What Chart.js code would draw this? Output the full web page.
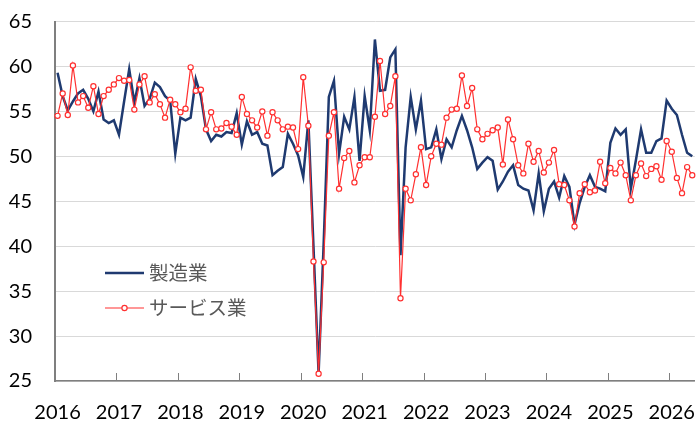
<!DOCTYPE html>
<html>
<head>
<meta charset="utf-8">
<script src="https://cdn.jsdelivr.net/npm/chart.js@4/dist/chart.umd.min.js"></script>
<style>
  html, body { margin: 0; padding: 0; background: #ffffff; }
  #wrap { width: 700px; height: 421px; position: relative; }
</style>
</head>
<body>
<div id="wrap"><canvas id="c" width="700" height="421"></canvas></div>
<script>
// ---- data ----
const startYear = 2016;
const yearLabels = ['2016','2017','2018','2019','2020','2021','2022','2023','2024','2025','2026'];
const seriesNames = ['製造業', 'サービス業'];

const manufacturing = [
  59.3, 56.7, 55.1, 56.1, 57.0, 57.4, 56.4, 55.0, 57.2, 54.1, 53.7, 54.0,
  52.4, 56.1, 59.7, 56.0, 58.7, 55.6, 56.4, 58.2, 57.7, 56.7, 56.2, 50.3,
  54.3, 54.0, 54.3, 58.6, 56.7, 53.0, 51.7, 52.4, 52.2, 52.7, 52.6, 54.8,
  51.3, 53.9, 52.4, 52.7, 51.4, 51.2, 47.9, 48.4, 48.8, 52.5, 51.4, 50.1,
  47.7, 54.0, 40.0, 25.8, 40.5, 56.6, 58.4, 50.3, 54.4, 53.0, 56.6, 49.5,
  56.7, 52.9, 63.0, 57.3, 57.4, 61.0, 61.9, 39.0, 51.0, 56.6, 53.0, 56.2,
  50.8, 51.0, 53.0, 49.7, 51.9, 51.0, 52.9, 54.5, 52.9, 51.0, 48.6, 49.3,
  49.9, 49.5, 46.3, 47.2, 48.3, 49.0, 46.8, 46.4, 46.2, 44.0, 48.1, 43.9,
  46.4, 47.2, 45.4, 47.8, 46.6, 42.4, 44.8, 46.6, 47.9, 46.6, 46.4, 46.1,
  51.5, 53.1, 52.4, 53.0, 46.4, 49.6, 53.0, 50.4, 50.4, 51.7, 52.0, 56.2,
  55.3, 54.6, 52.4, 50.4, 50.0
];

const services = [
  54.5, 57.0, 54.6, 60.1, 56.0, 56.7, 55.4, 57.8, 54.7, 56.7, 57.4, 58.0,
  58.7, 58.4, 58.5, 55.2, 58.0, 58.9, 56.0, 56.9, 55.8, 54.3, 56.3, 55.8,
  54.9, 55.3, 59.9, 57.3, 57.4, 53.0, 54.9, 53.0, 53.1, 53.7, 53.3, 52.4,
  56.6, 54.7, 54.0, 53.2, 55.0, 52.3, 54.9, 54.0, 53.0, 53.3, 53.2, 50.8,
  58.8, 53.4, 38.3, 25.8, 38.2, 52.3, 54.9, 46.4, 49.8, 50.6, 47.1, 49.0,
  49.9, 49.9, 54.4, 60.6, 54.7, 55.6, 58.9, 34.2, 46.4, 45.1, 48.0, 51.0,
  46.8, 50.0, 51.4, 51.3, 54.3, 55.2, 55.3, 59.0, 55.6, 57.6, 53.0, 51.9,
  52.5, 52.9, 53.2, 49.1, 54.1, 51.9, 49.0, 48.1, 51.4, 49.4, 50.6, 48.2,
  49.3, 50.7, 46.9, 46.8, 45.1, 42.2, 45.9, 46.9, 46.0, 46.2, 49.4, 47.0,
  48.7, 48.1, 49.3, 47.9, 45.1, 47.9, 49.2, 47.8, 48.6, 48.9, 47.4, 51.7,
  50.5, 47.6, 45.9, 48.8, 47.9
];

const yMin = 25, yMax = 65, yStep = 5;

// month categories built from the series length
const months = manufacturing.map((_, i) => {
  const y = startYear + Math.floor(i / 12);
  const m = (i % 12) + 1;
  return y + '-' + String(m).padStart(2, '0');
});

// ---- plugins ----
const innerTicks = {
  id: 'innerTicks',
  afterDatasetsDraw(chart) {
    const xs = chart.scales.x;
    const ctx = chart.ctx;
    const half = (xs.getPixelForValue(1) - xs.getPixelForValue(0)) / 2;
    ctx.save();
    ctx.strokeStyle = '#7f7f7f';
    ctx.lineWidth = 1;
    months.forEach((lab, i) => {
      if (lab.endsWith('-01')) {
        const px = Math.round(xs.getPixelForValue(i) - half) + 0.5;
        ctx.beginPath();
        ctx.moveTo(px, xs.top);
        ctx.lineTo(px, xs.top - 8);
        ctx.stroke();
      }
    });
    ctx.restore();
  }
};

const innerLegend = {
  id: 'innerLegend',
  afterDraw(chart) {
    const ctx = chart.ctx;
    const x0 = 105, y0 = 273, gap = 35, len = 39;
    ctx.save();
    ctx.font = '19.5px "Noto Sans CJK JP"';
    ctx.textBaseline = 'middle';
    ctx.textAlign = 'left';
    chart.data.datasets.forEach((ds, k) => {
      const y = y0 + k * gap;
      ctx.strokeStyle = ds.borderColor;
      ctx.lineWidth = ds.borderWidth;
      ctx.beginPath();
      ctx.moveTo(x0, y);
      ctx.lineTo(x0 + len, y);
      ctx.stroke();
      if (ds.pointRadius > 0) {
        ctx.beginPath();
        ctx.arc(x0 + len / 2, y, ds.pointRadius, 0, Math.PI * 2);
        ctx.fillStyle = ds.pointBackgroundColor;
        ctx.fill();
        ctx.lineWidth = ds.pointBorderWidth;
        ctx.strokeStyle = ds.pointBorderColor;
        ctx.stroke();
      }
      ctx.fillStyle = '#595959';
      ctx.fillText(ds.label, x0 + len + 5, y);
    });
    ctx.restore();
  }
};

new Chart(document.getElementById('c'), {
  type: 'line',
  data: {
    labels: months,
    datasets: [
      {
        label: seriesNames[0],
        data: manufacturing,
        borderColor: '#1f3a70',
        borderWidth: 2.5,
        pointRadius: 0,
        tension: 0,
        order: 2
      },
      {
        label: seriesNames[1],
        data: services,
        borderColor: '#ff3030',
        borderWidth: 1.2,
        pointRadius: 2.6,
        pointBackgroundColor: '#ffffff',
        pointBorderColor: '#ff3030',
        pointBorderWidth: 1.2,
        tension: 0,
        order: 1
      }
    ]
  },
  plugins: [innerTicks, innerLegend],
  options: {
    responsive: false,
    animation: false,
    devicePixelRatio: 1,
    layout: { padding: { top: 21.5, right: 0, left: 0, bottom: 0 } },
    plugins: {
      legend: { display: false },
      tooltip: { enabled: false }
    },
    scales: {
      x: {
        type: 'category',
        offset: true,
        grid: { display: false, drawTicks: false },
        border: { display: true, color: '#7f7f7f', width: 1.5 },
        ticks: {
          autoSkip: false,
          maxRotation: 0,
          minRotation: 0,
          padding: 20,
          color: '#000000',
          font: { family: 'Lato', size: 20 },
          callback(val, idx) {
            const lab = months[idx];
            if (lab.endsWith('-01')) {
              return yearLabels[Math.floor(idx / 12)];
            }
            return null;
          }
        },
        afterFit(s) {
          s.height = 40;
          s.paddingLeft = 0; s.paddingRight = 0;
          s.paddingTop = 0; s.paddingBottom = 0;
        }
      },
      y: {
        min: yMin,
        max: yMax,
        grid: { color: '#d9d9d9', lineWidth: 1, drawTicks: false },
        border: { display: true, color: '#7f7f7f', width: 2 },
        ticks: {
          stepSize: yStep,
          padding: 23,
          color: '#000000',
          font: { family: 'Lato', size: 20 }
        },
        afterFit(s) {
          s.width = 55;
          s.paddingLeft = 0; s.paddingRight = 0;
          s.paddingTop = 0; s.paddingBottom = 0;
        }
      }
    }
  }
});
</script>
</body>
</html>
